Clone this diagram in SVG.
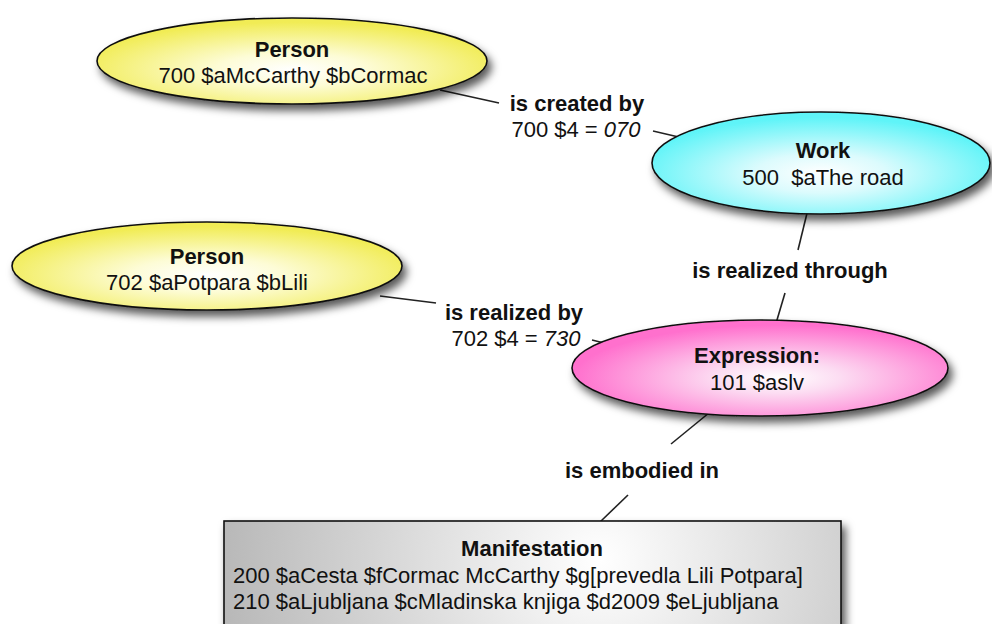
<svg xmlns="http://www.w3.org/2000/svg" width="992" height="624" viewBox="0 0 992 624">
<style>
  text { font-family: "Liberation Sans", Arial, sans-serif; font-size: 22px; fill: #111; }
  .b { font-weight: bold; }
  .c { text-anchor: middle; }
  .i { font-style: italic; }
  .conn line { stroke: #222; stroke-width: 1.6; }
  .shape { stroke: #111; stroke-width: 1.6; }
</style>
<defs>
  <filter id="sh" x="-10%" y="-20%" width="125%" height="150%">
    <feDropShadow dx="4" dy="6" stdDeviation="4" flood-color="#000" flood-opacity="0.65"/>
  </filter>
  <radialGradient id="gy" cx="0.5" cy="0.6" r="0.55">
    <stop offset="0" stop-color="#ffffff"/>
    <stop offset="0.35" stop-color="#fdfcd6"/>
    <stop offset="1" stop-color="#f1ec55"/>
  </radialGradient>
  <radialGradient id="gc" cx="0.5" cy="0.6" r="0.55">
    <stop offset="0" stop-color="#ffffff"/>
    <stop offset="0.35" stop-color="#dcfbfd"/>
    <stop offset="1" stop-color="#5ef4f8"/>
  </radialGradient>
  <radialGradient id="gp" cx="0.55" cy="0.6" r="0.55">
    <stop offset="0" stop-color="#ffffff"/>
    <stop offset="0.3" stop-color="#fcdcf2"/>
    <stop offset="1" stop-color="#ff6fcd"/>
  </radialGradient>
  <radialGradient id="gg" gradientUnits="userSpaceOnUse" cx="600" cy="560" r="400">
    <stop offset="0" stop-color="#ffffff"/>
    <stop offset="1" stop-color="#b4b4b4"/>
  </radialGradient>
</defs>

<g id="connectors" class="conn">
  <line x1="440" y1="90" x2="499" y2="103"/>
  <line x1="653" y1="131" x2="700" y2="142"/>
  <line x1="809" y1="205" x2="798" y2="250"/>
  <line x1="785" y1="293" x2="774" y2="330"/>
  <line x1="380" y1="296" x2="436" y2="303"/>
  <line x1="592" y1="340" x2="620" y2="347"/>
  <line x1="715" y1="408" x2="671" y2="444"/>
  <line x1="628" y1="495" x2="600" y2="522"/>
</g>

<g id="person1">
  <ellipse class="shape" cx="292" cy="61" rx="195" ry="43" fill="url(#gy)" filter="url(#sh)"/>
  <text class="b c" x="292" y="57">Person</text>
  <text class="c" x="293" y="83">700 $aMcCarthy $bCormac</text>
</g>

<g id="work">
  <ellipse class="shape" cx="821" cy="163" rx="169" ry="51" fill="url(#gc)" filter="url(#sh)"/>
  <text class="b c" x="823" y="158">Work</text>
  <text class="c" x="823" y="185" xml:space="preserve">500  $aThe road</text>
</g>

<g id="person2">
  <ellipse class="shape" cx="207" cy="266" rx="195" ry="44" fill="url(#gy)" filter="url(#sh)"/>
  <text class="b c" x="207" y="264">Person</text>
  <text class="c" x="207" y="290">702 $aPotpara $bLili</text>
</g>

<g id="expression">
  <ellipse class="shape" cx="760" cy="368" rx="188" ry="48" fill="url(#gp)" filter="url(#sh)"/>
  <text class="b c" x="757" y="363">Expression:</text>
  <text class="c" x="757" y="390">101 $aslv</text>
</g>

<g id="manifestation">
  <rect class="shape" x="224" y="521" width="617" height="130" fill="url(#gg)" stroke="#555" filter="url(#sh)"/>
  <text class="b c" x="532" y="556">Manifestation</text>
  <text x="233" y="583">200 $aCesta $fCormac McCarthy $g[prevedla Lili Potpara]</text>
  <text x="233" y="609">210 $aLjubljana $cMladinska knjiga $d2009 $eLjubljana</text>
</g>

<g id="labels">
  <text class="b c" x="577" y="111">is created by</text>
  <text class="c" x="576" y="137">700 $4 = <tspan class="i">070</tspan></text>
  <text class="b c" x="790" y="278">is realized through</text>
  <text class="b c" x="514" y="320">is realized by</text>
  <text class="c" x="516" y="346">702 $4 = <tspan class="i">730</tspan></text>
  <text class="b c" x="642" y="478">is embodied in</text>
</g>
</svg>
